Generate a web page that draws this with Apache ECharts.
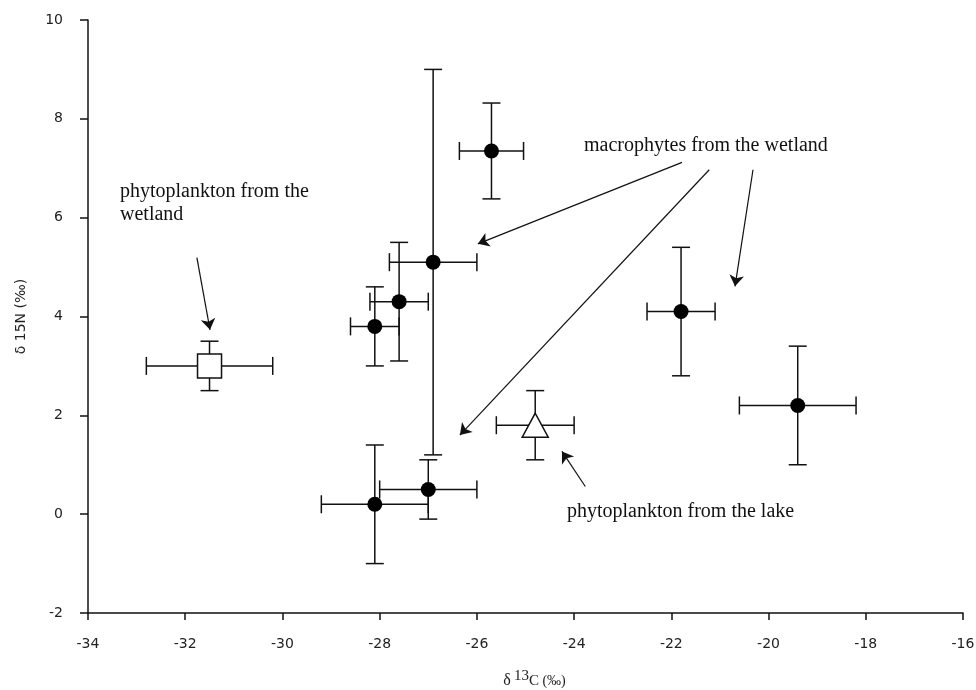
<!DOCTYPE html>
<html>
<head>
<meta charset="utf-8">
<script src="https://cdn.jsdelivr.net/npm/echarts@6/dist/echarts.min.js"></script>
<style>
  html, body { margin: 0; padding: 0; background: #fff; }
  #chart { width: 976px; height: 690px; }
</style>
</head>
<body>
<div id="chart"></div>
<script>
// 大型植物 (macrophytes from the wetland)
var macroX = [-28.1, -27.0, -26.9, -25.7, -27.6, -28.1, -21.8, -19.4];
var macroY = [0.2, 0.5, 5.1, 7.35, 4.3, 3.8, 4.1, 2.2];
var macroXErr = [1.1, 1.0, 0.9, 0.66, 0.6, 0.5, 0.7, 1.2];
var macroYErr = [1.2, 0.6, 3.9, 0.97, 1.2, 0.8, 1.3, 1.2];

// 湿地浮游植物
var wetlandX = [-31.5];
var wetlandY = [3.0];
var wetlandXErr = [1.3];
var wetlandYErr = [0.5];

// 湖泊浮游植物
var lakeX = [-24.8];
var lakeY = [1.8];
var lakeXErr = [0.8];
var lakeYErr = [0.7];

// axis ticks
var xTicks = { min: -34, max: -16, step: 2 };
var yTicks = { min: -2, max: 10, step: 2 };

// annotation arrows, [from, to] in data units
var arrows = [
    [[-31.76, 5.19], [-31.49, 3.73]],
    [[-21.78, 7.12], [-25.98, 5.47]],
    [[-21.22, 6.97], [-26.35, 1.60]],
    [[-20.32, 6.97], [-20.69, 4.61]],
    [[-23.77, 0.56], [-24.25, 1.27]]
];

function zipPts(xs, ys) {
    var out = [];
    for (var i = 0; i < xs.length; i++) out.push([xs[i], ys[i]]);
    return out;
}
function zipErr(xs, ys, ex, ey) {
    var out = [];
    for (var i = 0; i < xs.length; i++) out.push([xs[i], ys[i], ex[i], ey[i]]);
    return out;
}

var errData = []
    .concat(zipErr(macroX, macroY, macroXErr, macroYErr))
    .concat(zipErr(wetlandX, wetlandY, wetlandXErr, wetlandYErr))
    .concat(zipErr(lakeX, lakeY, lakeXErr, lakeYErr));

var CAP = 9;
var barStyle = { stroke: '#111', lineWidth: 1.5 };

// 误差线
function renderErr(params, api) {
    var x = api.value(0), y = api.value(1), ex = api.value(2), ey = api.value(3);
    var l = api.coord([x - ex, y]), r = api.coord([x + ex, y]);
    var t = api.coord([x, y + ey]), b = api.coord([x, y - ey]);
    function ln(x1, y1, x2, y2) {
        return { type: 'line', shape: { x1: x1, y1: y1, x2: x2, y2: y2 }, style: barStyle };
    }
    return {
        type: 'group',
        children: [
            ln(l[0], l[1], r[0], r[1]),
            ln(l[0], l[1] - CAP, l[0], l[1] + CAP),
            ln(r[0], r[1] - CAP, r[0], r[1] + CAP),
            ln(t[0], t[1], b[0], b[1]),
            ln(t[0] - CAP, t[1], t[0] + CAP, t[1]),
            ln(b[0] - CAP, b[1], b[0] + CAP, b[1])
        ]
    };
}

var arrowLines = arrows.map(function (a) {
    return [{ coord: a[0] }, { coord: a[1] }];
});

var serif = '"Liberation Serif", "Times New Roman", serif';
var sans = '"DejaVu Sans", sans-serif';

var myChart = echarts.init(document.getElementById('chart'));

var option = {
    animation: false,
    backgroundColor: '#fff',
    grid: { left: 88, right: 13, top: 20, bottom: 77, containLabel: false, outerBoundsMode: 'none' },
    xAxis: {
        type: 'value',
        min: xTicks.min, max: xTicks.max, interval: xTicks.step,
        name: '{d|δ} {sup|13}{c|C} {p|(‰)}',
        nameLocation: 'middle',
        nameGap: 56,
        nameTextStyle: {
            padding: [0, 0, 0, 18],
            rich: {
                d: { fontFamily: serif, fontSize: 16, color: '#222' },
                sup: { fontFamily: serif, fontSize: 15, color: '#222', padding: [0, 0, 9, 0] },
                c: { fontFamily: serif, fontSize: 15, color: '#222' },
                p: { fontFamily: serif, fontSize: 14, color: '#222' }
            }
        },
        axisLine: { onZero: false, lineStyle: { color: '#111', width: 1.5 } },
        axisTick: { inside: false, length: 7, lineStyle: { color: '#111', width: 1.5 } },
        axisLabel: { margin: 24, fontFamily: sans, fontSize: 14, color: '#222' },
        splitLine: { show: false }
    },
    yAxis: {
        type: 'value',
        min: yTicks.min, max: yTicks.max, interval: yTicks.step,
        name: 'δ 15N (‰)',
        nameLocation: 'middle',
        nameGap: 60,
        nameTextStyle: { fontFamily: sans, fontSize: 14, color: '#222' },
        axisLine: { onZero: false, lineStyle: { color: '#111', width: 1.5 } },
        axisTick: { inside: false, length: 8, lineStyle: { color: '#111', width: 1.5 } },
        axisLabel: { margin: 25, fontFamily: sans, fontSize: 14, color: '#222' },
        splitLine: { show: false }
    },
    series: [
        {
            type: 'custom',
            name: 'err',
            renderItem: renderErr,
            data: errData,
            z: 1,
            silent: true,
            markLine: {
                silent: true,
                symbol: ['none', 'arrow'],
                symbolSize: 11,
                label: { show: false },
                lineStyle: { color: '#111', width: 1.2, type: 'solid' },
                data: arrowLines
            }
        },
        {
            type: 'scatter',
            name: 'macrophytes from the wetland',
            data: zipPts(macroX, macroY),
            symbol: 'circle',
            symbolSize: 15,
            itemStyle: { color: '#000', opacity: 1 },
            z: 3
        },
        {
            type: 'scatter',
            name: 'phytoplankton from the wetland',
            data: zipPts(wetlandX, wetlandY),
            symbol: 'rect',
            symbolSize: 24,
            itemStyle: { color: '#fff', borderColor: '#111', borderWidth: 1.5, opacity: 1 },
            z: 3
        },
        {
            type: 'scatter',
            name: 'phytoplankton from the lake',
            data: zipPts(lakeX, lakeY),
            symbol: 'triangle',
            symbolSize: [26, 24],
            itemStyle: { color: '#fff', borderColor: '#111', borderWidth: 1.5, opacity: 1 },
            z: 3
        }
    ],
    graphic: [
        {
            type: 'text', left: 120, top: 180,
            style: { text: 'phytoplankton from the\nwetland', font: '20px ' + serif, fill: '#111', lineHeight: 23 }
        },
        {
            type: 'text', left: 584, top: 136,
            style: { text: 'macrophytes from the wetland', font: '20px ' + serif, fill: '#111' }
        },
        {
            type: 'text', left: 567, top: 502,
            style: { text: 'phytoplankton from the lake', font: '20px ' + serif, fill: '#111' }
        }
    ]
};

myChart.setOption(option);
</script>
</body>
</html>
